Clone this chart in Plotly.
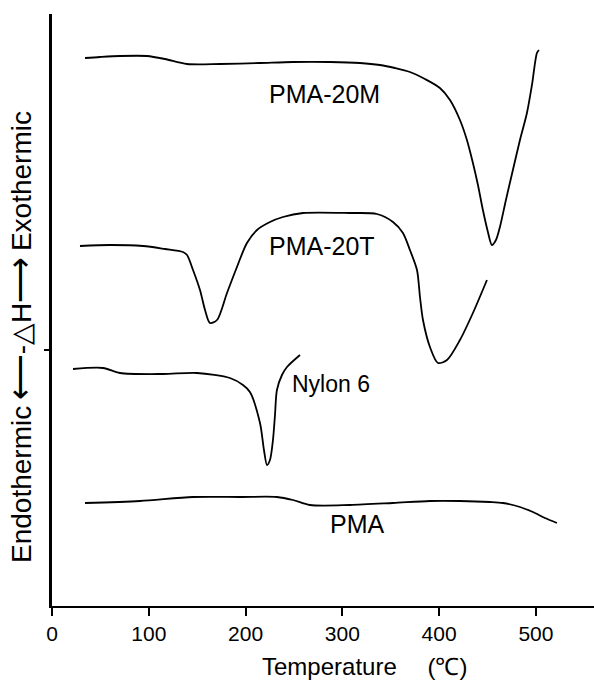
import plotly.graph_objects as go

# DSC traces: temperature (°C) vs heat flow (arbitrary units, curves offset vertically)
pma20m_t = [34.1, 49.6, 70.2, 98.1, 116.7, 139.5, 173.6, 214.9, 249.0, 287.2, 318.2, 338.8,
            354.3, 369.8, 385.3, 400.8, 411.2, 421.5, 428.7, 434.9, 440.1, 445.2, 450.4,
            454.5, 458.7, 462.8, 469.0, 476.2, 483.5, 490.7, 495.9, 501.0, 503.1]
pma20m_h = [54.8, 54.9, 55.0, 55.0, 54.7, 54.2, 54.2, 54.3, 54.4, 54.4, 54.3, 54.1,
            53.8, 53.4, 52.7, 51.8, 50.6, 48.6, 46.6, 44.3, 42.1, 39.6, 37.4,
            36.1, 36.6, 37.9, 40.6, 43.6, 46.6, 49.3, 52.1, 55.3, 55.6]

pma20t_t = [28.9, 59.9, 94.0, 116.7, 135.3, 139.5, 145.7, 152.9, 158.1, 163.2, 170.5, 180.8,
            191.1, 201.4, 211.8, 225.2, 238.6, 259.3, 307.9, 335.7, 352.3, 362.6, 369.8,
            377.1, 380.2, 383.3, 390.5, 398.8, 408.1, 421.5, 434.9, 449.4]
pma20t_h = [36.0, 36.1, 36.0, 35.7, 35.4, 35.1, 33.6, 31.6, 29.6, 28.3, 28.6, 31.3,
            33.9, 36.3, 37.6, 38.4, 38.9, 39.3, 39.3, 39.2, 38.4, 37.3, 35.6,
            33.6, 30.9, 28.6, 25.9, 24.3, 24.6, 26.6, 29.3, 32.6]

nylon6_t = [21.7, 52.7, 70.2, 114.7, 149.8, 183.9, 197.3, 204.5, 214.9, 219.0, 222.1,
            225.2, 228.3, 230.4, 232.4, 237.6, 242.8, 256.2]
nylon6_h = [23.7, 23.8, 23.3, 23.2, 23.3, 22.8, 22.1, 21.4, 18.3, 15.6, 14.1,
            14.6, 16.6, 19.1, 21.6, 23.1, 23.9, 25.1]

pma_t = [34.1, 90.9, 145.7, 194.2, 232.4, 249.0, 266.5, 307.9, 352.3, 390.5, 421.5,
         452.5, 465.9, 483.5, 496.9, 509.3, 521.7]
pma_h = [10.3, 10.5, 10.9, 10.9, 10.9, 10.6, 10.1, 10.1, 10.3, 10.5, 10.5,
         10.4, 10.3, 9.9, 9.4, 8.8, 8.3]

x_ticks = [0, 100, 200, 300, 400, 500]

FONT = "Liberation Sans, Arial, sans-serif"

fig = go.Figure()
for t, h in [(pma20m_t, pma20m_h), (pma20t_t, pma20t_h), (nylon6_t, nylon6_h), (pma_t, pma_h)]:
    fig.add_trace(go.Scatter(x=t, y=h, mode="lines",
                             line=dict(color="black", width=1.8, shape="spline", smoothing=0.8),
                             showlegend=False, hoverinfo="skip"))

# curve labels: text, x, y, anchor, font size
labels = [
    ("PMA-20M", 282.0, 51.2, "center", 25),
    ("PMA-20T", 279.4, 36.0, "center", 25),
    ("Nylon 6", 245.5, 22.2, "left", 23),
    ("PMA", 315.6, 8.2, "center", 25),
]
for text, lx, ly, anchor, fs in labels:
    fig.add_annotation(x=lx, y=ly, text=text, showarrow=False, xanchor=anchor, yanchor="middle",
                       font=dict(family=FONT, size=fs, color="black"))

# axis titles
fig.add_annotation(xref="paper", yref="paper", x=(364 - 52) / 542, y=0, xanchor="center",
                   yanchor="middle", yshift=-60, showarrow=False,
                   text="Temperature\u2003 (\u2103)", font=dict(family=FONT, size=24, color="black"))
arrow_l = '<span style="font-size:32px">\u27f5</span>'
arrow_r = '<span style="font-size:32px">\u27f6</span>'
fig.add_annotation(xref="paper", yref="paper", x=0, xshift=-32, y=(606 - 337) / 592,
                   xanchor="center", yanchor="middle", textangle=-90, showarrow=False,
                   text="Endothermic\u2009" + arrow_l + "-\u25b3H" + arrow_r + "\u2009Exothermic",
                   font=dict(family=FONT, size=28, color="black"))

fig.update_layout(
    width=594, height=681,
    margin=dict(l=52, r=0, t=14, b=75),
    paper_bgcolor="white", plot_bgcolor="white",
    xaxis=dict(range=[0, 560], tickvals=x_ticks, ticks="outside", ticklen=8, tickwidth=2,
               tickcolor="black", showline=True, linecolor="black", linewidth=2,
               showgrid=False, zeroline=False,
               tickfont=dict(family=FONT, size=21, color="black")),
    yaxis=dict(range=[0, 59.2], tickvals=[25.6], ticktext=[""], ticks="outside", ticklen=5,
               tickwidth=2, tickcolor="black", showline=True, linecolor="black", linewidth=3,
               showgrid=False, zeroline=False, showticklabels=False),
)

fig.write_html("out.html")
